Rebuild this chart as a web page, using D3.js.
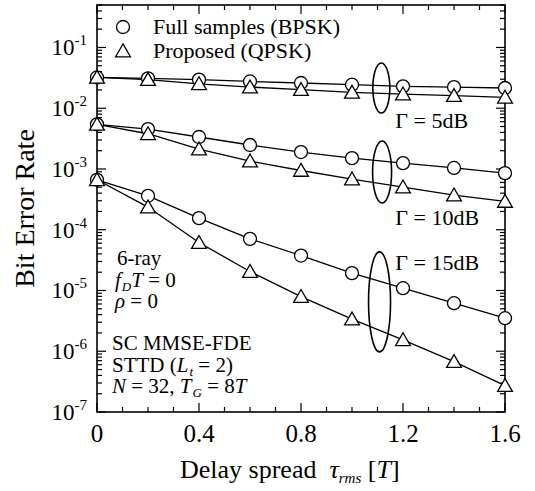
<!DOCTYPE html>
<html>
<head>
<meta charset="utf-8">
<script src="https://cdn.jsdelivr.net/npm/d3@7"></script>
<style>
  body { margin: 0; background: #fff; }
  svg { display: block; font-family: "Liberation Serif", "Times New Roman", serif; }
</style>
</head>
<body>
<svg id="chart" width="535" height="491"></svg>
<script>
// delay spread (x) and BER series
const delaySpread = [0, 0.2, 0.4, 0.6, 0.8, 1.0, 1.2, 1.4, 1.6];

const ber5Full  = [0.0321, 0.0310, 0.0295, 0.0276, 0.0260, 0.0244, 0.0229, 0.0223, 0.0215];
const ber5Prop  = [0.0321, 0.0295, 0.0252, 0.0223, 0.0202, 0.0182, 0.0171, 0.0161, 0.0151];
const ber10Full = [0.00544, 0.00454, 0.00336, 0.00248, 0.00190, 0.00151, 0.00125, 0.00104, 0.000855];
const ber10Prop = [0.00544, 0.00380, 0.00213, 0.00135, 0.000944, 0.000682, 0.000504, 0.000372, 0.000292];
const ber15Full = [0.000664, 0.000362, 0.000155, 7.08e-5, 3.76e-5, 1.93e-5, 1.09e-5, 6.18e-6, 3.5e-6];
const ber15Prop = [0.000664, 0.000236, 6.15e-5, 2.05e-5, 7.94e-6, 3.37e-6, 1.54e-6, 6.74e-7, 2.71e-7];

const xTicks = [0, 0.4, 0.8, 1.2, 1.6];
const xTickLabels = ['0', '0.4', '0.8', '1.2', '1.6'];
const yExponents = [-1, -2, -3, -4, -5, -6, -7];

const legendLabels = ['Full samples (BPSK)', 'Proposed (QPSK)'];
const gammaLabels = ['5dB', '10dB', '15dB'];

const margin = { top: 5, right: 30, bottom: 79, left: 97 };
const width = 535 - margin.left - margin.right;
const height = 491 - margin.top - margin.bottom;

const svg = d3.select('#chart');
const main = svg.append('g')
  .attr('transform', `translate(${margin.left},${margin.top})`);

const x = d3.scaleLinear().domain([0, 1.6]).range([0, width]);
const y = d3.scaleLog().domain([1e-7, 0.5]).range([height, 0]);

// minor log ticks: 2..9 x 10^k
const yMinor = [];
for (let e = -7; e <= -1; e++) {
  for (let m = 2; m <= 9; m++) {
    const v = m * Math.pow(10, e);
    if (v <= 0.5) yMinor.push(v);
  }
}
const yMajor = yExponents.map(e => Math.pow(10, e));
const xMinor = d3.range(0, 1.61, 0.1).map(v => +v.toFixed(1));

const axes = main.append('g').attr('class', 'axes');

// frame
axes.append('rect')
  .attr('width', width)
  .attr('height', height)
  .attr('fill', 'none')
  .attr('stroke', '#000')
  .attr('stroke-width', 1.6);

const tickLine = (sel) => sel.attr('stroke', '#000').attr('stroke-width', 1.2);

// x ticks (bottom + top, inward)
[[height, -1], [0, 1]].forEach(([y0, dir]) => {
  axes.append('g').selectAll('line')
    .data(xMinor)
    .join('line')
    .attr('x1', d => x(d)).attr('x2', d => x(d))
    .attr('y1', y0)
    .attr('y2', d => y0 + dir * (xTicks.some(t => Math.abs(t - d) < 1e-6) ? 9 : 5))
    .call(tickLine);
});

// y ticks (left + right, inward)
[[0, 1], [width, -1]].forEach(([x0, dir]) => {
  const g = axes.append('g');
  g.selectAll('line.major')
    .data(yMajor)
    .join('line')
    .attr('class', 'major')
    .attr('x1', x0).attr('x2', x0 + dir * 9)
    .attr('y1', d => y(d)).attr('y2', d => y(d))
    .call(tickLine);
  g.selectAll('line.minor')
    .data(yMinor)
    .join('line')
    .attr('class', 'minor')
    .attr('x1', x0).attr('x2', x0 + dir * 5)
    .attr('y1', d => y(d)).attr('y2', d => y(d))
    .call(tickLine);
});

// x tick labels
axes.append('g').selectAll('text')
  .data(xTicks)
  .join('text')
  .attr('x', d => x(d))
  .attr('y', height + 30)
  .attr('text-anchor', 'middle')
  .attr('font-size', 25)
  .text((d, i) => xTickLabels[i]);

// y tick labels 10^k
const yLab = axes.append('g').selectAll('text')
  .data(yExponents)
  .join('text')
  .attr('x', -10)
  .attr('y', d => y(Math.pow(10, d)) + 8)
  .attr('text-anchor', 'end')
  .attr('font-size', 23);
yLab.append('tspan').text('10');
yLab.append('tspan')
  .attr('font-size', 15)
  .attr('dy', -10)
  .text(d => `${d}`);

// axis titles
const xTitle = svg.append('text')
  .attr('x', 180)
  .attr('y', 478)
  .attr('font-size', 26);
xTitle.append('tspan').text('Delay spread\u00a0\u00a0');
xTitle.append('tspan').attr('font-style', 'italic').text('\u03c4');
xTitle.append('tspan').attr('font-style', 'italic').attr('font-size', 15).attr('dy', 5).text('rms');
xTitle.append('tspan').attr('dy', -5).text(' [');
xTitle.append('tspan').attr('font-style', 'italic').text('T');
xTitle.append('tspan').text(']');

svg.append('text')
  .attr('transform', `translate(34, ${margin.top + height / 2}) rotate(-90)`)
  .attr('text-anchor', 'middle')
  .attr('font-size', 28)
  .text('Bit Error Rate');

// curves
const series = [
  { values: ber5Full, marker: 'circle' },
  { values: ber5Prop, marker: 'triangle' },
  { values: ber10Full, marker: 'circle' },
  { values: ber10Prop, marker: 'triangle' },
  { values: ber15Full, marker: 'circle' },
  { values: ber15Prop, marker: 'triangle' },
];

const line = d3.line()
  .x((d, i) => x(delaySpread[i]))
  .y(d => y(d));

const plot = main.append('g').attr('class', 'plot');

plot.selectAll('path.curve')
  .data(series)
  .join('path')
  .attr('class', 'curve')
  .attr('fill', 'none')
  .attr('stroke', '#000')
  .attr('stroke-width', 1.3)
  .attr('d', d => line(d.values));

const circleSym = d3.symbol().type(d3.symbolCircle).size(Math.PI * 6.5 * 6.5);
const triSym = d3.symbol().type(d3.symbolTriangle).size(95);

series.forEach(s => {
  plot.append('g').selectAll('path')
    .data(s.values)
    .join('path')
    .attr('transform', (d, i) => `translate(${x(delaySpread[i])},${y(d) + (s.marker === 'triangle' ? 1.5 : 0)})`)
    .attr('d', s.marker === 'circle' ? circleSym : triSym)
    .attr('fill', '#fff')
    .attr('stroke', '#000')
    .attr('stroke-width', 1.3);
});

// ellipses grouping curves for each Gamma
const groups = [
  { cx: 1.115, cy: 0.0215, rx: 8.5, ry: 25, label: gammaLabels[0], ly: 0.0047 },
  { cx: 1.118, cy: 0.00089, rx: 9.5, ry: 31, label: gammaLabels[1], ly: 0.00012 },
  { cx: 1.108, cy: 6.5e-6, rx: 11, ry: 50, label: gammaLabels[2], ly: 2.17e-5 },
];

plot.selectAll('ellipse')
  .data(groups)
  .join('ellipse')
  .attr('cx', d => x(d.cx))
  .attr('cy', d => y(d.cy))
  .attr('rx', d => d.rx)
  .attr('ry', d => d.ry)
  .attr('fill', 'none')
  .attr('stroke', '#000')
  .attr('stroke-width', 1.6);

plot.selectAll('text.gamma')
  .data(groups)
  .join('text')
  .attr('class', 'gamma')
  .attr('x', x(1.17))
  .attr('y', d => y(d.ly))
  .attr('font-size', 22)
  .text(d => `\u0393 = ${d.label}`);

// legend
const legend = main.append('g').attr('transform', 'translate(26, 22)');
legendLabels.forEach((lab, i) => {
  legend.append('path')
    .attr('transform', `translate(0, ${i * 24 + (i === 1 ? 1.5 : 0)})`)
    .attr('d', i === 0 ? circleSym : triSym)
    .attr('fill', '#fff')
    .attr('stroke', '#000')
    .attr('stroke-width', 1.3);
  legend.append('text')
    .attr('x', 30)
    .attr('y', i * 24 + 7)
    .attr('font-size', 22)
    .text(lab);
});

// condition annotations
const notes = main.append('g').attr('font-size', 21);
const addLine = (xp, yp, parts) => {
  const t = notes.append('text').attr('x', xp).attr('y', yp);
  parts.forEach(p => {
    const ts = t.append('tspan').text(p.t);
    if (p.i) ts.attr('font-style', 'italic');
    if (p.sub) ts.attr('font-size', 13).attr('dy', 4).attr('dx', 1);
    if (p.up) ts.attr('dy', -4);
  });
};
addLine(20, 260, [{ t: '6-ray' }]);
addLine(18, 282, [{ t: 'f', i: 1 }, { t: 'D', i: 1, sub: 1 }, { t: 'T', i: 1, up: 1 }, { t: ' = 0' }]);
addLine(18, 303, [{ t: '\u03c1', i: 1 }, { t: ' = 0' }]);
addLine(15, 345, [{ t: 'SC MMSE-FDE' }]);
addLine(15, 367, [{ t: 'STTD (' }, { t: 'L', i: 1 }, { t: 't', i: 1, sub: 1 }, { t: ' = 2)', up: 1 }]);
addLine(15, 388, [{ t: 'N', i: 1 }, { t: ' = 32, ' }, { t: 'T', i: 1 }, { t: 'G', i: 1, sub: 1 }, { t: ' = 8', up: 1 }, { t: 'T', i: 1 }]);
</script>
</body>
</html>
